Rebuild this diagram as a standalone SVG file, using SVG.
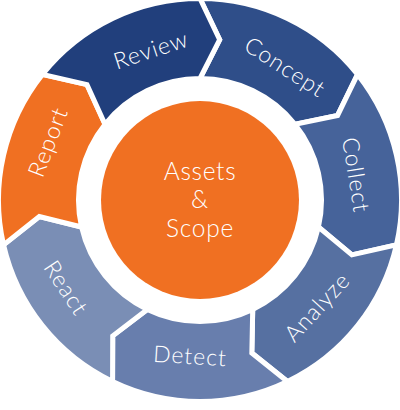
<svg xmlns="http://www.w3.org/2000/svg" width="400" height="410" viewBox="0 0 400 410">
  <style>
    .seg { stroke: #ffffff; stroke-width: 5; stroke-linejoin: miter; }
    .lbl { font-family: Lato, "Open Sans", "Liberation Sans", sans-serif; font-weight: 300; font-size: 23px; fill: #ffffff; text-anchor: middle; letter-spacing: 1px; }
    .ctr { font-family: Lato, "Open Sans", "Liberation Sans", sans-serif; font-weight: 300; font-size: 24.5px; fill: #ffffff; text-anchor: middle; letter-spacing: 0.7px; }
  </style>
  <rect width="400" height="410" fill="#ffffff"/>
  <g id="concept">
    <path class="seg" fill="#2f4e89" d="M 200,-1.5 A 201.5 201.5 0 0 1 357.54,74.37 L 337.58,115.43 L 294.99,124.25 A 121.5 121.5 0 0 0 200,78.5 L 219.68,39.70 Z"/>
    <text class="lbl" transform="translate(285,67) rotate(32.6)" dy="0.35em">Concept</text>
  </g>
  <g id="collect">
    <path class="seg" fill="#46639a" d="M 357.54,74.37 A 201.5 201.5 0 0 1 396.45,244.84 L 351.90,254.86 L 318.45,227.04 A 121.5 121.5 0 0 0 294.99,124.25 L 337.58,115.43 Z"/>
    <text class="lbl" transform="translate(356,175) rotate(81)" dy="0.35em">Collect</text>
  </g>
  <g id="analyze">
    <path class="seg" fill="#5670a1" d="M 396.45,244.84 A 201.5 201.5 0 0 1 287.43,381.55 L 251.83,352.96 L 252.72,309.47 A 121.5 121.5 0 0 0 318.45,227.04 L 351.90,254.86 Z"/>
    <text class="lbl" transform="translate(317,307) rotate(-47.6)" dy="0.35em">Analyze</text>
  </g>
  <g id="detect">
    <path class="seg" fill="#687ead" d="M 287.43,381.55 A 201.5 201.5 0 0 1 112.57,381.55 L 112.72,335.88 L 147.28,309.47 A 121.5 121.5 0 0 0 252.72,309.47 L 251.83,352.96 Z"/>
    <text class="lbl" transform="translate(190,356) rotate(3.7)" dy="0.35em">Detect</text>
  </g>
  <g id="react">
    <path class="seg" fill="#7a8eb5" d="M 112.57,381.55 A 201.5 201.5 0 0 1 3.55,244.84 L 39.34,216.48 L 81.55,227.04 A 121.5 121.5 0 0 0 147.28,309.47 L 112.72,335.88 Z"/>
    <text class="lbl" transform="translate(66,288) rotate(56.7)" dy="0.35em">React</text>
  </g>
  <g id="report">
    <path class="seg" fill="#f07022" d="M 3.55,244.84 A 201.5 201.5 0 0 1 42.46,74.37 L 87.00,84.61 L 105.01,124.25 A 121.5 121.5 0 0 0 81.55,227.04 L 39.34,216.48 Z"/>
    <text class="lbl" transform="translate(48,142) rotate(-69.1)" dy="0.35em">Report</text>
  </g>
  <g id="review">
    <path class="seg" fill="#213f7c" d="M 42.46,74.37 A 201.5 201.5 0 0 1 200,-1.5 L 219.68,39.70 L 200,78.5 A 121.5 121.5 0 0 0 105.01,124.25 L 87.00,84.61 Z"/>
    <text class="lbl" transform="translate(151,50) rotate(-18.1)" dy="0.35em">Review</text>
  </g>
  <g id="center">
    <circle cx="200" cy="200" r="99" fill="#f07022"/>
    <text class="ctr" x="200" y="180">Assets</text>
    <text class="ctr" x="200" y="208">&amp;</text>
    <text class="ctr" x="200" y="237">Scope</text>
  </g>
  <g id="connectors"></g>
</svg>
